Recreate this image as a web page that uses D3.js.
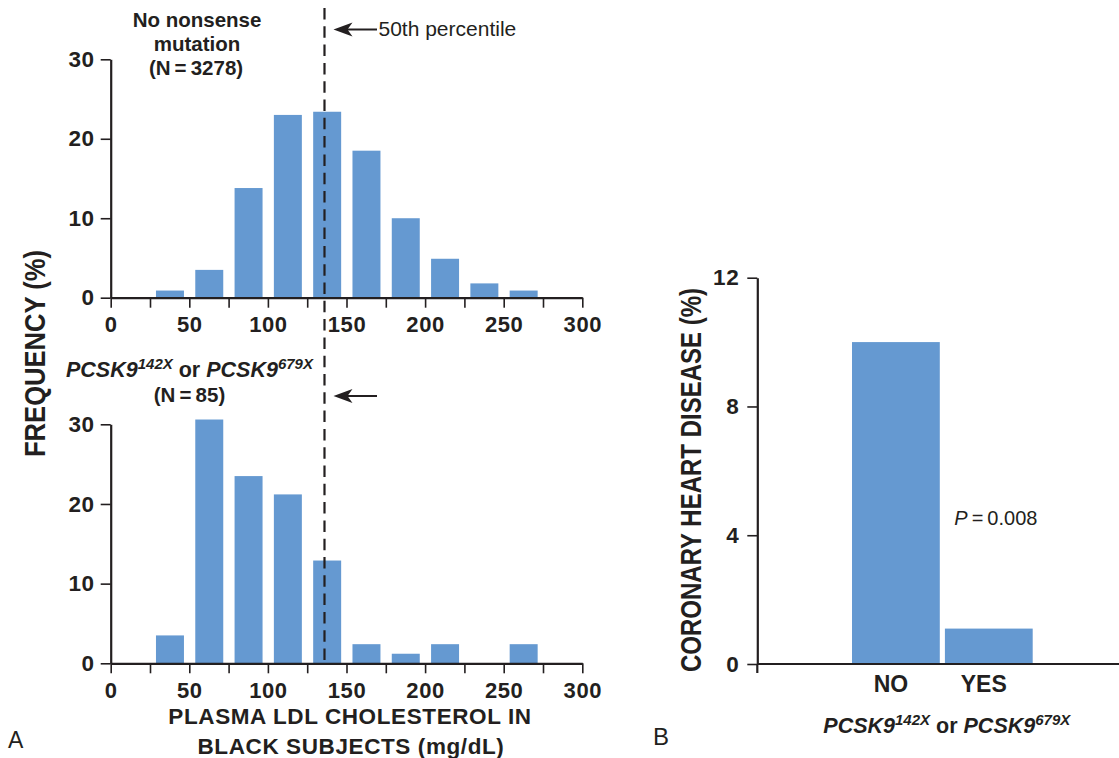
<!DOCTYPE html>
<html>
<head>
<meta charset="utf-8">
<script src="https://cdn.jsdelivr.net/npm/d3@7"></script>
<style>
  html, body { margin: 0; padding: 0; background: #fff; }
  svg { display: block; }
  text { font-family: "Liberation Sans", Arial, Helvetica, sans-serif; fill: #231f20; }
</style>
</head>
<body>
<svg id="chart" width="1119" height="758"></svg>
<script>
// ---------------- data ----------------
const binStart = [25, 50, 75, 100, 125, 150, 175, 200, 225, 250];      // LDL bins (mg/dL), width 25
const noMutationPct = [0.9, 3.5, 13.8, 23.0, 23.4, 18.5, 10.0, 4.9, 1.8, 0.9];   // N = 3278
const carrierPct = [3.5, 30.6, 23.5, 21.2, 12.9, 2.4, 1.2, 2.4, 0, 2.4];        // N = 85
const ldlTicks = [0, 50, 100, 150, 200, 250, 300];
const freqTicks = [0, 10, 20, 30];
const medianLDL = 136;
const chdGroups = ["NO", "YES"];
const chdPct = [10.0, 1.1];
const chdTicks = [0, 4, 8, 12];

// ---------------- setup ----------------
const svg = d3.select("#chart");
const ink = "#231f20";
const barColor = "#6599d1";

const x = d3.scaleLinear().domain([0, 300]).range([110.7, 582.3]);
const yTop = d3.scaleLinear().domain([0, 30]).range([297.7, 59.3]);
const yBot = d3.scaleLinear().domain([0, 30]).range([663.3, 424.3]);

function styleAxis(g, fs) {
  g.select(".domain").attr("stroke", ink).attr("stroke-width", 2.2);
  g.selectAll(".tick line").attr("stroke", ink).attr("stroke-width", 1.6);
  g.selectAll(".tick text")
    .attr("fill", ink)
    .style("font-size", fs + "px")
    .style("font-weight", "bold")
    .style("font-family", '"Liberation Sans", Arial, sans-serif')
    .attr("letter-spacing", "0.6");
}

function histogram(y, values) {
  const g = svg.append("g");
  g.selectAll("rect").data(values).join("rect")
    .attr("x", (d, i) => x(binStart[i] + 3.8))
    .attr("width", x(binStart[0] + 21.6) - x(binStart[0] + 3.8))
    .attr("y", d => y(d))
    .attr("height", d => y(0) - y(d))
    .attr("fill", barColor);

  const xa = svg.append("g")
    .attr("transform", `translate(0,${y(0)})`)
    .call(d3.axisBottom(x)
      .tickValues(d3.range(0, 301, 25))
      .tickFormat(d => ldlTicks.includes(d) ? d : "")
      .tickSize(10).tickSizeOuter(0).tickPadding(9));
  styleAxis(xa, 22);

  const ya = svg.append("g")
    .attr("transform", `translate(${x(0)},0)`)
    .call(d3.axisLeft(y).tickValues(freqTicks).tickSize(10).tickSizeOuter(0).tickPadding(6));
  styleAxis(ya, 22.5);
}

histogram(yTop, noMutationPct);
histogram(yBot, carrierPct);

// median (50th percentile) dashed line
svg.append("line")
  .attr("x1", x(medianLDL)).attr("x2", x(medianLDL))
  .attr("y1", 8).attr("y2", 666)
  .attr("stroke", ink).attr("stroke-width", 2.2)
  .attr("stroke-dasharray", "11.5,6.8");

function arrow(yPos) {
  const tip = x(medianLDL) + 9;
  const tail = tip + 43.5;
  svg.append("line")
    .attr("x1", tip + 12).attr("x2", tail)
    .attr("y1", yPos).attr("y2", yPos)
    .attr("stroke", ink).attr("stroke-width", 2);
  svg.append("path")
    .attr("d", `M${tip},${yPos} L${tip + 19},${yPos - 7} L${tip + 14},${yPos} L${tip + 19},${yPos + 7} Z`)
    .attr("fill", ink);
}
arrow(29.5);
arrow(396);

svg.append("text").attr("x", x(medianLDL) + 54).attr("y", 35.5)
  .style("font-size", "21px").text("50th percentile");

// top annotation
const topNote = svg.append("text").attr("text-anchor", "middle")
  .style("font-size", "20.5px").style("font-weight", "bold");
topNote.append("tspan").attr("x", 197).attr("y", 27).text("No nonsense");
topNote.append("tspan").attr("x", 197).attr("y", 51).text("mutation");
topNote.append("tspan").attr("x", 196).attr("y", 75).text("(N\u2009=\u20093278)");

// genotype label helper
function genoLabel(xPos, yPos, anchor) {
  const t = svg.append("text").attr("x", xPos).attr("y", yPos)
    .attr("text-anchor", anchor)
    .style("font-size", "21.5px").style("font-weight", "bold").style("font-style", "italic");
  t.append("tspan").text("PCSK9");
  t.append("tspan").attr("dy", -8).style("font-size", "15px").text("142X");
  t.append("tspan").attr("dy", 8).style("font-style", "normal").text(" or ");
  t.append("tspan").text("PCSK9");
  t.append("tspan").attr("dy", -8).style("font-size", "15px").text("679X");
  return t;
}
genoLabel(66, 377.3, "start");
svg.append("text").attr("x", 189.5).attr("y", 401.7).attr("text-anchor", "middle")
  .style("font-size", "20.5px").style("font-weight", "bold").text("(N\u2009=\u200985)");

// x-axis title
const xt = svg.append("text").attr("text-anchor", "middle")
  .style("font-size", "22.5px").style("font-weight", "bold");
xt.append("tspan").attr("x", 350).attr("y", 724).attr("letter-spacing", "0.6").text("PLASMA LDL CHOLESTEROL IN");
xt.append("tspan").attr("x", 351).attr("y", 753.5).attr("letter-spacing", "0.6").text("BLACK SUBJECTS (mg/dL)");

// y title
svg.append("text")
  .attr("transform", "translate(45,353.5) rotate(-90)")
  .attr("text-anchor", "middle")
  .attr("textLength", 207).attr("lengthAdjust", "spacingAndGlyphs")
  .style("font-size", "30px").style("font-weight", "bold")
  .text("FREQUENCY (%)");

svg.append("text").attr("x", 8).attr("y", 748).style("font-size", "23px").text("A");

// ---------------- panel B ----------------
const yR = d3.scaleLinear().domain([0, 12]).range([664, 277.7]);
const xR = d3.scaleBand().domain(chdGroups).range([852, 1032.7]).paddingInner(0.055).paddingOuter(0);
const axisLeftX = 757.3;

svg.append("g").selectAll("rect").data(chdPct).join("rect")
  .attr("x", (d, i) => xR(chdGroups[i]))
  .attr("width", xR.bandwidth())
  .attr("y", d => yR(d))
  .attr("height", d => yR(0) - yR(d))
  .attr("fill", barColor);

const yRa = svg.append("g").attr("transform", `translate(${axisLeftX},0)`)
  .call(d3.axisLeft(yR).tickValues(chdTicks).tickSize(10).tickSizeOuter(0).tickPadding(8));
styleAxis(yRa, 22.5);
// y axis stub below baseline
svg.append("line").attr("x1", axisLeftX).attr("x2", axisLeftX)
  .attr("y1", yR(0)).attr("y2", yR(0) + 9).attr("stroke", ink).attr("stroke-width", 2.2);
// baseline
svg.append("line").attr("x1", axisLeftX).attr("x2", 1119)
  .attr("y1", yR(0)).attr("y2", yR(0)).attr("stroke", ink).attr("stroke-width", 2.2);

svg.append("g").selectAll("text").data(chdGroups).join("text")
  .attr("x", d => xR(d) + xR.bandwidth() / 2 - 5)
  .attr("y", yR(0) + 27.7)
  .attr("text-anchor", "middle")
  .style("font-size", "23px").style("font-weight", "bold")
  .text(d => d);

const pt = svg.append("text").attr("x", 954.3).attr("y", 525).style("font-size", "20px");
pt.append("tspan").style("font-style", "italic").text("P");
pt.append("tspan").text("\u2009=\u20090.008");

svg.append("text")
  .attr("transform", "translate(701,480) rotate(-90)")
  .attr("text-anchor", "middle")
  .attr("textLength", 384).attr("lengthAdjust", "spacingAndGlyphs")
  .style("font-size", "30px").style("font-weight", "bold")
  .text("CORONARY HEART DISEASE (%)");

genoLabel(946.8, 733.3, "middle");

svg.append("text").attr("x", 653).attr("y", 745).style("font-size", "24px").text("B");
</script>
</body>
</html>
